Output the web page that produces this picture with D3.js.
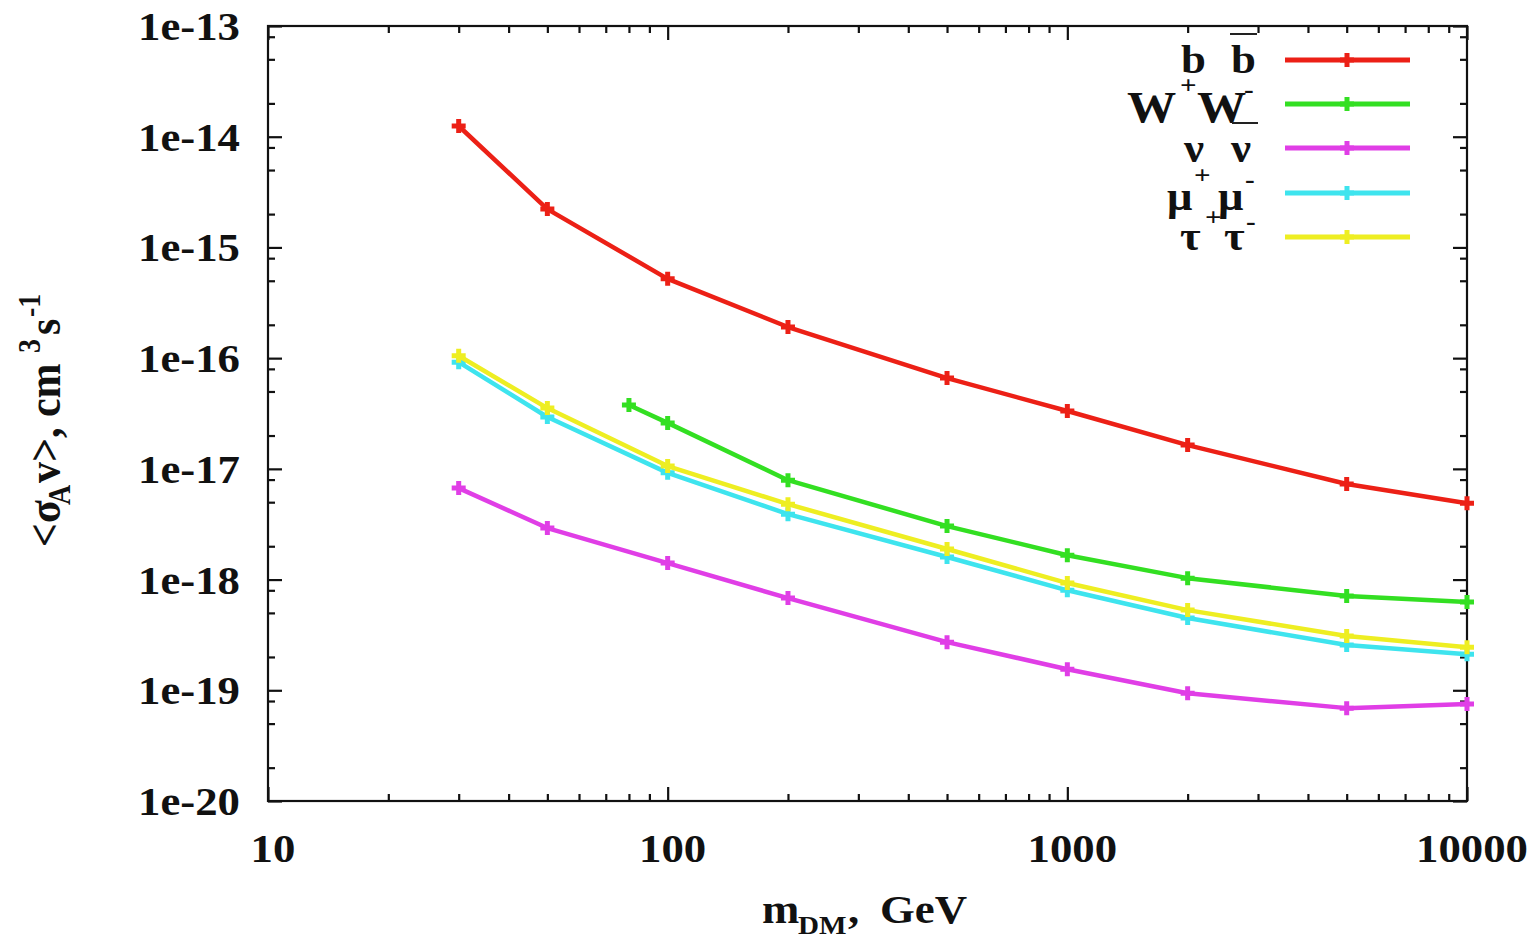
<!DOCTYPE html>
<html>
<head>
<meta charset="utf-8">
<script src="https://cdn.jsdelivr.net/npm/d3@7"></script>
<style>
  html, body { margin: 0; padding: 0; background: #fff; }
  svg { display: block; }
  text { font-family: "Liberation Serif", "Times New Roman", serif; font-weight: bold; fill: #111; }
</style>
</head>
<body>
<svg id="chart" width="1540" height="939"></svg>
<script>
// Dark-matter annihilation cross-section limits per channel
const masses   = [30, 50, 100, 200, 500, 1000, 2000, 5000, 10000];
const wwMasses = [80, 100, 200, 500, 1000, 2000, 5000, 10000];

const bbValues   = [1.25e-14, 2.22e-15, 5.2e-16, 1.91e-16, 6.6e-17, 3.33e-17, 1.64e-17, 7.3e-18, 4.9e-18];
const wwValues   = [3.77e-17, 2.6e-17, 7.9e-18, 3.04e-18, 1.66e-18, 1.03e-18, 7.1e-19, 6.27e-19];
const nunuValues = [6.7e-18, 2.92e-18, 1.41e-18, 6.8e-19, 2.72e-19, 1.55e-19, 9.4e-20, 6.9e-20, 7.5e-20];
const mumuValues = [9.2e-17, 2.94e-17, 9.2e-18, 3.9e-18, 1.6e-18, 8.0e-19, 4.5e-19, 2.56e-19, 2.12e-19];
const tautauValues = [1.05e-16, 3.54e-17, 1.06e-17, 4.8e-18, 1.89e-18, 9.3e-19, 5.3e-19, 3.09e-19, 2.45e-19];

const xTickValues = [10, 100, 1000, 10000];
const yTickValues = [1e-13, 1e-14, 1e-15, 1e-16, 1e-17, 1e-18, 1e-19, 1e-20];

const series = [
  { id: "bb",     x: masses,   y: bbValues,     color: "#ec2016" },
  { id: "ww",     x: wwMasses, y: wwValues,     color: "#33df22" },
  { id: "nunu",   x: masses,   y: nunuValues,   color: "#e03ee6" },
  { id: "mumu",   x: masses,   y: mumuValues,   color: "#3ee4ee" },
  { id: "tautau", x: masses,   y: tautauValues, color: "#eeee22" }
];

const svg = d3.select("#chart");
const M = { left: 268, right: 1467, top: 26, bottom: 801 };
const SX = 1.12; // glyph width stretch

const x = d3.scaleLog().domain([10, 10000]).range([M.left, M.right]);
const y = d3.scaleLog().domain([1e-20, 1e-13]).range([M.bottom, M.top]);

// minor ticks: 2..9 on the mass axis, 2/5/8 on the cross-section axis
const xMinor = [];
for (let d = 10; d < 10000; d *= 10) for (let k = 2; k <= 9; k++) xMinor.push(d * k);
const yMinor = [];
for (let e = -20; e < -13; e++) for (const k of [2, 5, 8]) yMinor.push(k * Math.pow(10, e));

function tickAxis(axisGen, values, size, transform) {
  const g = svg.append("g").attr("transform", transform)
    .call(axisGen.tickValues(values).tickSize(size).tickFormat(""));
  g.select(".domain").remove();
  g.selectAll("line").attr("stroke", "#111").attr("stroke-width", 2.2);
  return g;
}
// bottom / top
tickAxis(d3.axisTop(x), xTickValues, 14, `translate(0,${M.bottom})`);
tickAxis(d3.axisTop(x), xMinor, 7, `translate(0,${M.bottom})`);
tickAxis(d3.axisBottom(x), xTickValues, 14, `translate(0,${M.top})`);
tickAxis(d3.axisBottom(x), xMinor, 7, `translate(0,${M.top})`);
// left / right
tickAxis(d3.axisRight(y), yTickValues, 14, `translate(${M.left},0)`);
tickAxis(d3.axisRight(y), yMinor, 7, `translate(${M.left},0)`);
tickAxis(d3.axisLeft(y), yTickValues, 14, `translate(${M.right},0)`);
tickAxis(d3.axisLeft(y), yMinor, 7, `translate(${M.right},0)`);

// frame
svg.append("rect")
  .attr("x", M.left).attr("y", M.top)
  .attr("width", M.right - M.left).attr("height", M.bottom - M.top)
  .attr("fill", "none").attr("stroke", "#111").attr("stroke-width", 2.2);

function label(g, tx, ty, str, size, anchor) {
  return g.append("text")
    .attr("transform", `translate(${tx},${ty}) scale(${SX},1)`)
    .attr("text-anchor", anchor || "start")
    .style("font-size", size + "px")
    .text(str);
}

// tick labels
const tl = svg.append("g");
xTickValues.forEach(v => label(tl, x(v) + 5, 862, String(v), 40, "middle"));
yTickValues.forEach(v => label(tl, M.left - 28, y(v) + 14, "1e" + Math.round(Math.log10(v)), 40, "end"));

// axis titles
const xt = svg.append("g");
label(xt, 762, 923, "m", 40);
label(xt, 798, 934, "DM", 26);
label(xt, 848, 923, ",", 40);
label(xt, 880, 923, "GeV", 40);

const yt = svg.append("g").attr("transform", "translate(60,547) rotate(-90)");
function ylab(tx, ty, str, size) {
  yt.append("text").attr("transform", `translate(${tx},${ty}) scale(1,${SX})`)
    .style("font-size", size + "px").text(str);
}
ylab(0, 0, "<σ", 42);
ylab(42, 10, "A", 28);
ylab(64, 0, "v>, cm", 42);
ylab(194, -20, "3", 28);
ylab(212, 0, "s", 42);
ylab(230, -20, "-1", 28);

// curves
const line = d3.line().x(d => x(d[0])).y(d => y(d[1]));
const plus = "M-7,0H7M0,-7V7";

series.forEach(s => {
  const pts = s.x.map((m, i) => [m, s.y[i]]);
  const g = svg.append("g");
  g.append("path").datum(pts).attr("d", line)
    .attr("fill", "none").attr("stroke", s.color)
    .attr("stroke-width", 4.5).attr("stroke-linejoin", "round");
  g.selectAll("path.pt").data(pts).join("path").attr("class", "pt")
    .attr("transform", d => `translate(${x(d[0])},${y(d[1])})`)
    .attr("d", plus).attr("stroke", s.color).attr("stroke-width", 5);
});

// legend
const lg = svg.append("g");
const legendRows = [60, 104, 148, 193, 237];
series.forEach((s, i) => {
  const ly = legendRows[i];
  lg.append("line").attr("x1", 1285).attr("x2", 1410).attr("y1", ly).attr("y2", ly)
    .attr("stroke", s.color).attr("stroke-width", 5);
  lg.append("path").attr("transform", `translate(1347,${ly})`).attr("d", plus)
    .attr("stroke", s.color).attr("stroke-width", 5);
});
function bar(x1, x2, yy) {
  lg.append("line").attr("x1", x1).attr("x2", x2).attr("y1", yy).attr("y2", yy)
    .attr("stroke", "#222").attr("stroke-width", 2);
}
// b b-bar
label(lg, 1181, 73, "b", 40);
label(lg, 1231, 73, "b", 40);
bar(1230, 1257, 34);
// W+ W-
label(lg, 1127, 122, "W", 44);
label(lg, 1180, 94, "+", 26);
label(lg, 1197, 122, "W", 44);
label(lg, 1244, 98, "-", 26);
bar(1232, 1258, 123);
// nu nu-bar
label(lg, 1184, 162, "ν", 40);
label(lg, 1231, 162, "ν", 40);
// mu+ mu-
label(lg, 1167, 210, "μ", 40);
label(lg, 1194, 184, "+", 26);
label(lg, 1218, 210, "μ", 40);
label(lg, 1245, 188, "-", 26);
// tau+ tau-
label(lg, 1180, 250, "τ", 40);
label(lg, 1205, 226, "+", 26);
label(lg, 1224, 250, "τ", 40);
label(lg, 1246, 230, "-", 26);
</script>
</body>
</html>
